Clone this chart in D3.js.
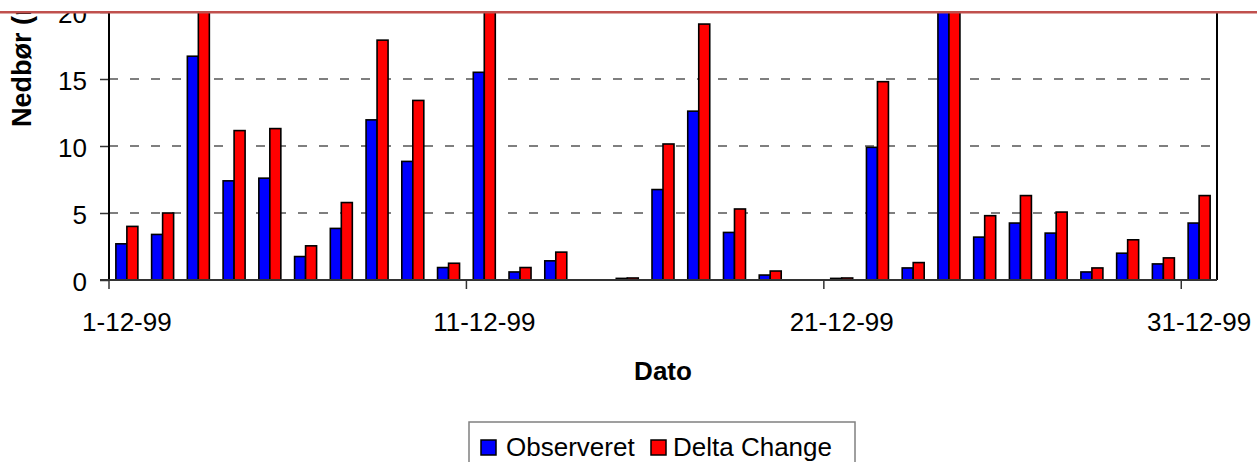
<!DOCTYPE html>
<html>
<head>
<meta charset="utf-8">
<script src="https://cdn.jsdelivr.net/npm/d3@7"></script>
<style>
  html, body { margin: 0; padding: 0; background: #fff; }
  svg { display: block; font-family: "Liberation Sans", Arial, sans-serif; }
</style>
</head>
<body>
<svg id="chart" width="1257" height="462"></svg>
<script>
// ---- data ----
const days = d3.range(1, 32).map(d => d + "-12-99");
const observeret = [2.7, 3.4, 16.7, 7.4, 7.6, 1.75, 3.85, 11.95, 8.85, 0.93, 15.5, 0.6, 1.43, 0, 0.12,
                    6.75, 12.6, 3.55, 0.37, 0, 0.12, 9.9, 0.9, 24, 3.2, 4.25, 3.5, 0.6, 2.0, 1.2, 4.25];
const deltaChange = [4.0, 5.0, 25, 11.15, 11.3, 2.55, 5.78, 17.9, 13.4, 1.25, 23, 0.93, 2.08, 0, 0.15,
                     10.15, 19.1, 5.3, 0.67, 0, 0.15, 14.8, 1.3, 33, 4.8, 6.3, 5.07, 0.9, 3.0, 1.65, 6.3];
const seriesNames = ["Observeret", "Delta Change"];
const seriesColors = ["#0000ff", "#ff0000"];
const yTicks = [0, 5, 10, 15, 20];
const xTickLabels = ["1-12-99", "11-12-99", "21-12-99", "31-12-99"];
const xTitle = "Dato";
const yTitle = "Nedbør (mm)";

// ---- layout ----
const svg = d3.select("#chart");
const left = 109, right = 1217, y0 = 280, unit = 13.4;
const x = d3.scaleBand().domain(days).range([left, right]).padding(0);
const bw = x.bandwidth();
const barW = 11;
const x1 = d3.scaleBand().domain(seriesNames).range([bw / 2 - barW, bw / 2 + barW]).padding(0);
const y = d3.scaleLinear().domain([0, 25]).range([y0, y0 - 25 * unit]);

const rows = days.map((d, i) => ({ day: d, vals: [observeret[i], deltaChange[i]] }));

// gridlines
svg.append("g").selectAll("line").data(yTicks.filter(t => t > 0)).join("line")
  .attr("x1", left).attr("x2", right)
  .attr("y1", d => y(d)).attr("y2", d => y(d))
  .attr("stroke", "#555").attr("stroke-width", 1.5).attr("stroke-dasharray", "9,12");

// bars
const g = svg.append("g");
g.selectAll("g").data(rows).join("g")
  .attr("transform", d => `translate(${x(d.day)},0)`)
  .selectAll("rect")
  .data(d => d.vals.map((v, j) => ({ v, s: seriesNames[j], c: seriesColors[j] })))
  .join("rect")
  .attr("x", d => x1(d.s))
  .attr("width", x1.bandwidth())
  .attr("y", d => y(d.v))
  .attr("height", d => y0 - y(d.v))
  .attr("fill", d => d.c)
  .attr("stroke", "#000")
  .attr("stroke-width", 1.6);

// y axis
const yAxis = d3.axisLeft(y).tickValues(yTicks).tickSize(9).tickPadding(13).tickFormat(d3.format("d"));
const ya = svg.append("g").attr("transform", `translate(${left},0)`).call(yAxis);
ya.select(".domain").remove();
ya.selectAll(".tick line").attr("stroke", "#333").attr("stroke-width", 1.5);
ya.selectAll(".tick text").attr("font-size", 26).attr("fill", "#000").attr("dy", "0.42em")
  .attr("font-family", "Liberation Sans, Arial, sans-serif");
svg.append("line").attr("x1", left).attr("x2", left).attr("y1", 0).attr("y2", y0)
  .attr("stroke", "#000").attr("stroke-width", 2);
// right border
svg.append("line").attr("x1", right).attr("x2", right).attr("y1", 0).attr("y2", y0)
  .attr("stroke", "#000").attr("stroke-width", 2);

// x axis
svg.append("line").attr("x1", left - 9).attr("x2", right).attr("y1", y0).attr("y2", y0)
  .attr("stroke", "#333").attr("stroke-width", 2);
const tickIdx = [0, 10, 20, 30];
svg.append("g").selectAll("line").data(tickIdx).join("line")
  .attr("x1", i => x(days[i])).attr("x2", i => x(days[i]))
  .attr("y1", y0).attr("y2", y0 + 9)
  .attr("stroke", "#333").attr("stroke-width", 1.5);
svg.append("g").selectAll("text").data(tickIdx).join("text")
  .attr("x", (i, k) => x(days[i]) + bw / 2)
  .attr("y", 331)
  .attr("text-anchor", "middle")
  .attr("font-size", 26)
  .text((i, k) => xTickLabels[k]);

// titles
svg.append("text").attr("x", (left + right) / 2).attr("y", 380)
  .attr("text-anchor", "middle").attr("font-size", 26).attr("font-weight", "bold").text(xTitle);
svg.append("text").attr("transform", "translate(31,127) rotate(-90)")
  .attr("text-anchor", "start").attr("font-size", 27).attr("font-weight", "bold").text(yTitle);

// top crop + red line
svg.append("rect").attr("x", 0).attr("y", 0).attr("width", 1257).attr("height", 11.5).attr("fill", "#fff");
svg.append("line").attr("x1", 0).attr("x2", 1257).attr("y1", 12.3).attr("y2", 12.3)
  .attr("stroke", "#c0504d").attr("stroke-width", 2.5);

// legend
const leg = svg.append("g");
leg.append("rect").attr("x", 469).attr("y", 422).attr("width", 386).attr("height", 60)
  .attr("fill", "#fff").attr("stroke", "#808080").attr("stroke-width", 1.5);
const legItems = [{ x: 481, tx: 506 }, { x: 651, tx: 673 }];
legItems.forEach((p, i) => {
  leg.append("rect").attr("x", p.x).attr("y", 440).attr("width", 15).attr("height", 15)
    .attr("fill", seriesColors[i]).attr("stroke", "#000").attr("stroke-width", 1.5);
  leg.append("text").attr("x", p.tx).attr("y", 456).attr("font-size", 26).text(seriesNames[i]);
});
</script>
</body>
</html>
